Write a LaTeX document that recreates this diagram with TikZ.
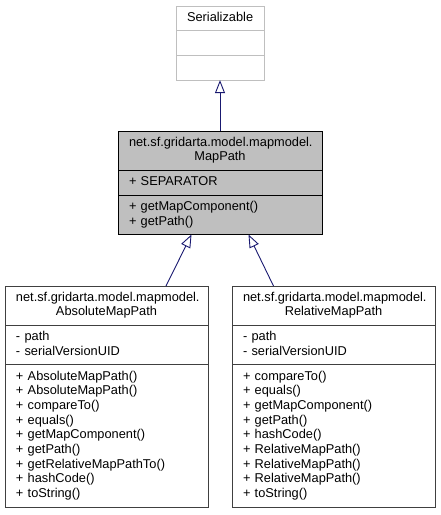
\documentclass[tikz,border=0pt]{standalone}
\usepackage{fontspec}
\setmainfont{Liberation Sans}
\usepackage{xcolor}
\usepackage{tikz}
\usetikzlibrary{arrows.meta, positioning}

\definecolor{edgeblue}{HTML}{191970}
\definecolor{boxgray}{HTML}{404040}
\definecolor{extgray}{HTML}{BFBFBF}

\begin{document}
\begin{tikzpicture}[x=1pt, y=1pt,
    part/.style={rectangle, draw=boxgray, fill=white, line width=1pt, outer sep=0pt,
        inner xsep=11pt, inner ysep=5pt, font=\fontsize{12.8}{14.7}\selectfont,
        execute at begin node=\strut, execute at end node=\strut},
    classname/.style={part, align=center},
    memberlist/.style={part, align=left},
    wide/.style={text width=181pt},
    inherit/.style={draw=edgeblue, line width=0.9pt, -{Triangle[open, length=13pt, width=10pt]}}
]
\useasboundingbox (0,0) rectangle (440,-515);

% Serializable (external interface)
\node[classname, draw=extgray, text width=66pt, anchor=north] (serName) at (220,-6) {Serializable};
\node[memberlist, draw=extgray, text width=66pt, below=0pt of serName] (serAttr) {};
\node[memberlist, draw=extgray, text width=66pt, below=0pt of serAttr] (serMeth) {};

% MapPath
\node[classname, draw=black, fill=extgray, text width=182pt, anchor=north] (mapName) at (220,-131)
    {net.sf.gridarta.model.mapmodel.\\MapPath};
\node[memberlist, draw=black, fill=extgray, text width=182pt, below=0pt of mapName] (mapAttr)
    {+ SEPARATOR};
\node[memberlist, draw=black, fill=extgray, text width=182pt, below=0pt of mapAttr] (mapMeth)
    {+ getMapComponent()\\+ getPath()};

% AbsoluteMapPath
\node[classname, wide, anchor=north] (absName) at (106.5,-286)
    {net.sf.gridarta.model.mapmodel.\\AbsoluteMapPath};
\node[memberlist, wide, below=0pt of absName] (absAttr)
    {- path\\- serialVersionUID};
\node[memberlist, wide, below=0pt of absAttr] (absMeth)
    {+ AbsoluteMapPath()\\+ AbsoluteMapPath()\\+ compareTo()\\+ equals()\\+ getMapComponent()\\+ getPath()\\+ getRelativeMapPathTo()\\+ hashCode()\\+ toString()};

% RelativeMapPath
\node[classname, wide, anchor=north] (relName) at (333.5,-286)
    {net.sf.gridarta.model.mapmodel.\\RelativeMapPath};
\node[memberlist, wide, below=0pt of relName] (relAttr)
    {- path\\- serialVersionUID};
\node[memberlist, wide, below=0pt of relAttr] (relMeth)
    {+ compareTo()\\+ equals()\\+ getMapComponent()\\+ getPath()\\+ hashCode()\\+ RelativeMapPath()\\+ RelativeMapPath()\\+ RelativeMapPath()\\+ toString()};

% Inheritance
\draw[inherit] (mapName.north) -- (serMeth.south);
\draw[inherit] ([xshift=59.5pt]absName.north) -- ([xshift=-28.5pt]mapMeth.south);
\draw[inherit] ([xshift=-60pt]relName.north) -- ([xshift=28.5pt]mapMeth.south);

\end{tikzpicture}
\end{document}
